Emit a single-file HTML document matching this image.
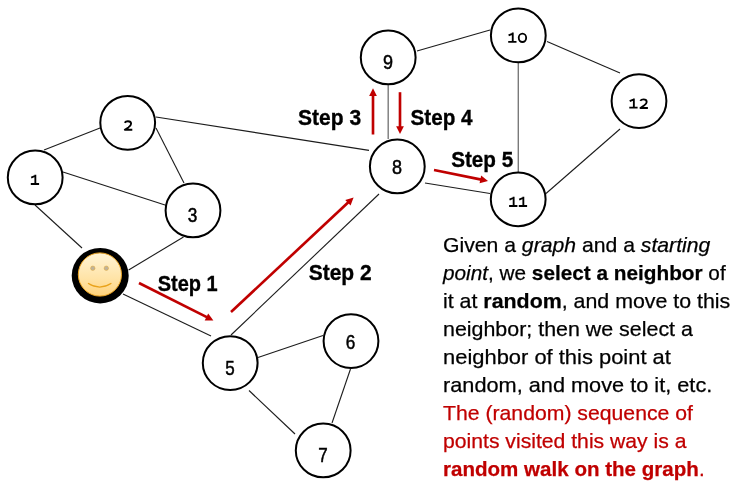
<!DOCTYPE html>
<html><head><meta charset="utf-8"><style>
html,body{margin:0;padding:0;background:#fff;width:734px;height:490px;overflow:hidden}
svg{display:block;will-change:transform}
</style></head><body>
<svg width="734" height="490" viewBox="0 0 734 490">
<line x1="44" y1="150" x2="100" y2="128" stroke="#1c1c1c" stroke-width="1.1"/>
<line x1="63" y1="172" x2="165" y2="205" stroke="#1c1c1c" stroke-width="1.1"/>
<line x1="35" y1="205" x2="82" y2="248" stroke="#1c1c1c" stroke-width="1.1"/>
<line x1="156" y1="128" x2="184" y2="183" stroke="#1c1c1c" stroke-width="1.1"/>
<line x1="156" y1="117" x2="369" y2="150.4" stroke="#1c1c1c" stroke-width="1.1"/>
<line x1="183.5" y1="237" x2="128.6" y2="270" stroke="#1c1c1c" stroke-width="1.1"/>
<line x1="123" y1="294" x2="211" y2="336" stroke="#1c1c1c" stroke-width="1.1"/>
<line x1="231" y1="335" x2="379" y2="194" stroke="#1c1c1c" stroke-width="1.1"/>
<line x1="258" y1="357.5" x2="323" y2="335.5" stroke="#1c1c1c" stroke-width="1.1"/>
<line x1="249" y1="390.5" x2="295" y2="434" stroke="#1c1c1c" stroke-width="1.1"/>
<line x1="350.5" y1="369" x2="332" y2="423" stroke="#1c1c1c" stroke-width="1.1"/>
<line x1="425" y1="183" x2="490" y2="193.5" stroke="#1c1c1c" stroke-width="1.1"/>
<line x1="417" y1="51" x2="490" y2="30" stroke="#1c1c1c" stroke-width="1.1"/>
<line x1="547" y1="41.6" x2="620" y2="73" stroke="#1c1c1c" stroke-width="1.1"/>
<line x1="546" y1="193.5" x2="620" y2="129" stroke="#1c1c1c" stroke-width="1.1"/>
<line x1="388.2" y1="84" x2="388.2" y2="139" stroke="#7a7a7a" stroke-width="1.4"/>
<line x1="518.3" y1="62" x2="518.3" y2="172" stroke="#7a7a7a" stroke-width="1.4"/>
<ellipse cx="35.2" cy="177.45" rx="27.4" ry="26.9" fill="#fff" stroke="#000" stroke-width="2.0"/>
<ellipse cx="127.7" cy="122.85" rx="27.4" ry="26.9" fill="#fff" stroke="#000" stroke-width="2.0"/>
<ellipse cx="193" cy="210.45" rx="27.4" ry="26.9" fill="#fff" stroke="#000" stroke-width="2.0"/>
<ellipse cx="230.2" cy="363.1" rx="27.4" ry="26.9" fill="#fff" stroke="#000" stroke-width="2.0"/>
<ellipse cx="351" cy="341.1" rx="27.4" ry="26.9" fill="#fff" stroke="#000" stroke-width="2.0"/>
<ellipse cx="323.2" cy="450.45" rx="27.4" ry="26.9" fill="#fff" stroke="#000" stroke-width="2.0"/>
<ellipse cx="397.3" cy="166.45" rx="27.4" ry="26.9" fill="#fff" stroke="#000" stroke-width="2.0"/>
<ellipse cx="388.2" cy="57.45" rx="27.4" ry="26.9" fill="#fff" stroke="#000" stroke-width="2.0"/>
<ellipse cx="518.3" cy="35.45" rx="27.4" ry="26.9" fill="#fff" stroke="#000" stroke-width="2.0"/>
<ellipse cx="518.2" cy="199.3" rx="27.4" ry="26.9" fill="#fff" stroke="#000" stroke-width="2.0"/>
<ellipse cx="639" cy="101.1" rx="27.4" ry="26.9" fill="#fff" stroke="#000" stroke-width="2.0"/>
<g transform="translate(30.5,174.8)"><path d="M4.85,0 V9.3 M0.7,2.75 L4.9,0.95 M0.3,9.2 H8.6" fill="none" stroke="#000" stroke-width="1.85"/></g>
<g transform="translate(123.7,120.2)"><path d="M1.0,2.5 C1.8,1.1 3.0,1.0 4.2,1.0 C6.0,1.0 7.4,1.9 7.4,3.5 C7.4,5.0 6.3,5.9 4.7,7.2 L1.1,9.55 H8.6" fill="none" stroke="#000" stroke-width="1.85" stroke-linejoin="round"/></g>
<g transform="translate(507.9,32.6)"><path d="M4.85,0 V9.3 M0.7,2.75 L4.9,0.95 M0.3,9.2 H8.6" fill="none" stroke="#000" stroke-width="1.85"/></g>
<g transform="translate(517.7,32.6)"><ellipse cx="4.75" cy="5.2" rx="3.72" ry="4.2" fill="none" stroke="#000" stroke-width="1.85"/></g>
<g transform="translate(508.8,196.8)"><path d="M4.85,0 V9.3 M0.7,2.75 L4.9,0.95 M0.3,9.2 H8.6" fill="none" stroke="#000" stroke-width="1.85"/></g>
<g transform="translate(518.5,196.8)"><path d="M4.85,0 V9.3 M0.7,2.75 L4.9,0.95 M0.3,9.2 H8.6" fill="none" stroke="#000" stroke-width="1.85"/></g>
<g transform="translate(629,98.4)"><path d="M4.85,0 V9.3 M0.7,2.75 L4.9,0.95 M0.3,9.2 H8.6" fill="none" stroke="#000" stroke-width="1.85"/></g>
<g transform="translate(639.3,98.4)"><path d="M1.0,2.5 C1.8,1.1 3.0,1.0 4.2,1.0 C6.0,1.0 7.4,1.9 7.4,3.5 C7.4,5.0 6.3,5.9 4.7,7.2 L1.1,9.55 H8.6" fill="none" stroke="#000" stroke-width="1.85" stroke-linejoin="round"/></g>
<text transform="translate(192.55,221.8) scale(0.86,1)" x="0" y="0" text-anchor="middle" font-family="Liberation Sans" font-size="20" fill="#000" stroke="#000" stroke-width="0.5">3</text>
<text transform="translate(230.05,374.9) scale(0.85,1)" x="0" y="0" text-anchor="middle" font-family="Liberation Sans" font-size="20" fill="#000" stroke="#000" stroke-width="0.5">5</text>
<text transform="translate(350.55,348.7) scale(0.86,1)" x="0" y="0" text-anchor="middle" font-family="Liberation Sans" font-size="20" fill="#000" stroke="#000" stroke-width="0.5">6</text>
<text transform="translate(322.9,461.9) scale(0.85,1)" x="0" y="0" text-anchor="middle" font-family="Liberation Sans" font-size="20" fill="#000" stroke="#000" stroke-width="0.5">7</text>
<text transform="translate(396.9,174.2) scale(0.9,1)" x="0" y="0" text-anchor="middle" font-family="Liberation Sans" font-size="20" fill="#000" stroke="#000" stroke-width="0.5">8</text>
<text transform="translate(388,68.8) scale(0.9,1)" x="0" y="0" text-anchor="middle" font-family="Liberation Sans" font-size="20" fill="#000" stroke="#000" stroke-width="0.5">9</text>
<defs><linearGradient id="fg" x1="0" y1="0" x2="0" y2="1"><stop offset="0" stop-color="#FFF4D6"/><stop offset="0.6" stop-color="#FFE3A6"/><stop offset="1" stop-color="#FFD27A"/></linearGradient></defs>
<ellipse cx="100.2" cy="275.65" rx="28.5" ry="27.75" fill="#000"/>
<circle cx="99.9" cy="274.5" r="21.6" fill="url(#fg)" stroke="#EFA622" stroke-width="1"/>
<circle cx="92.8" cy="268.2" r="2.2" fill="#BFB39A" stroke="#E3A634" stroke-width="0.5"/>
<circle cx="106.3" cy="268.2" r="2.2" fill="#BFB39A" stroke="#E3A634" stroke-width="0.5"/>
<path d="M88,283.3 Q99.6,290.8 111.4,283.3" fill="none" stroke="#E9A21A" stroke-width="1.2"/>
<line x1="139" y1="283" x2="207.32" y2="317.35" stroke="#C00000" stroke-width="2.65" stroke-linecap="butt"/><polygon points="213.40,320.40 204.68,320.38 208.18,313.41" fill="#C00000"/>
<line x1="231" y1="312" x2="348.63" y2="202.04" stroke="#C00000" stroke-width="2.65" stroke-linecap="butt"/><polygon points="353.60,197.40 350.56,205.58 345.24,199.88" fill="#C00000"/>
<line x1="373" y1="134.5" x2="373.00" y2="95.10" stroke="#C00000" stroke-width="2.65" stroke-linecap="butt"/><polygon points="373.00,88.30 376.90,96.10 369.10,96.10" fill="#C00000"/>
<line x1="400" y1="92.2" x2="400.00" y2="127.20" stroke="#C00000" stroke-width="2.65" stroke-linecap="butt"/><polygon points="400.00,134.00 396.10,126.20 403.90,126.20" fill="#C00000"/>
<line x1="434" y1="170" x2="481.34" y2="179.64" stroke="#C00000" stroke-width="2.65" stroke-linecap="butt"/><polygon points="488.00,181.00 479.58,183.26 481.14,175.62" fill="#C00000"/>
<text x="157.70000000000002" y="291.2" textLength="60" lengthAdjust="spacingAndGlyphs" font-family="Liberation Sans" font-weight="bold" font-size="22.3" fill="#000" stroke="#000" stroke-width="0.35">Step 1</text>
<text x="308.7" y="280.3" textLength="63" lengthAdjust="spacingAndGlyphs" font-family="Liberation Sans" font-weight="bold" font-size="22.3" fill="#000" stroke="#000" stroke-width="0.35">Step 2</text>
<text x="298.09999999999997" y="125.3" textLength="63" lengthAdjust="spacingAndGlyphs" font-family="Liberation Sans" font-weight="bold" font-size="22.3" fill="#000" stroke="#000" stroke-width="0.35">Step 3</text>
<text x="410.59999999999997" y="125.3" textLength="62" lengthAdjust="spacingAndGlyphs" font-family="Liberation Sans" font-weight="bold" font-size="22.3" fill="#000" stroke="#000" stroke-width="0.35">Step 4</text>
<text x="451.2" y="167.0" textLength="62" lengthAdjust="spacingAndGlyphs" font-family="Liberation Sans" font-weight="bold" font-size="22.3" fill="#000" stroke="#000" stroke-width="0.35">Step 5</text>
<text x="443" y="252.2" textLength="267.3" lengthAdjust="spacingAndGlyphs" font-family="Liberation Sans" font-size="21.0" fill="#000" stroke="#000" stroke-width="0.25"><tspan>Given a </tspan><tspan font-style="italic">graph</tspan><tspan> and a </tspan><tspan font-style="italic">starting</tspan></text>
<text x="443" y="280.1" textLength="282.7" lengthAdjust="spacingAndGlyphs" font-family="Liberation Sans" font-size="21.0" fill="#000" stroke="#000" stroke-width="0.25"><tspan font-style="italic">point</tspan><tspan>, we </tspan><tspan font-weight="bold">select a neighbor</tspan><tspan> of</tspan></text>
<text x="443" y="308.1" textLength="287.3" lengthAdjust="spacingAndGlyphs" font-family="Liberation Sans" font-size="21.0" fill="#000" stroke="#000" stroke-width="0.25"><tspan>it at </tspan><tspan font-weight="bold">random</tspan><tspan>, and move to this</tspan></text>
<text x="443" y="336.0" textLength="249.9" lengthAdjust="spacingAndGlyphs" font-family="Liberation Sans" font-size="21.0" fill="#000" stroke="#000" stroke-width="0.25">neighbor; then we select a</text>
<text x="443" y="364.0" textLength="227.9" lengthAdjust="spacingAndGlyphs" font-family="Liberation Sans" font-size="21.0" fill="#000" stroke="#000" stroke-width="0.25">neighbor of this point at</text>
<text x="443" y="392.2" textLength="269.3" lengthAdjust="spacingAndGlyphs" font-family="Liberation Sans" font-size="21.0" fill="#000" stroke="#000" stroke-width="0.25">random, and move to it, etc.</text>
<text x="443" y="420.4" textLength="249.9" lengthAdjust="spacingAndGlyphs" font-family="Liberation Sans" font-size="21.0" fill="#C00000" stroke="#C00000" stroke-width="0.25">The (random) sequence of</text>
<text x="443" y="447.5" textLength="243.5" lengthAdjust="spacingAndGlyphs" font-family="Liberation Sans" font-size="21.0" fill="#C00000" stroke="#C00000" stroke-width="0.25">points visited this way is a</text>
<text x="443" y="475.5" textLength="261.6" lengthAdjust="spacingAndGlyphs" font-family="Liberation Sans" font-size="21.0" fill="#C00000" stroke="#C00000" stroke-width="0.25"><tspan font-weight="bold">random walk on the graph</tspan><tspan>.</tspan></text>
</svg>
</body></html>
